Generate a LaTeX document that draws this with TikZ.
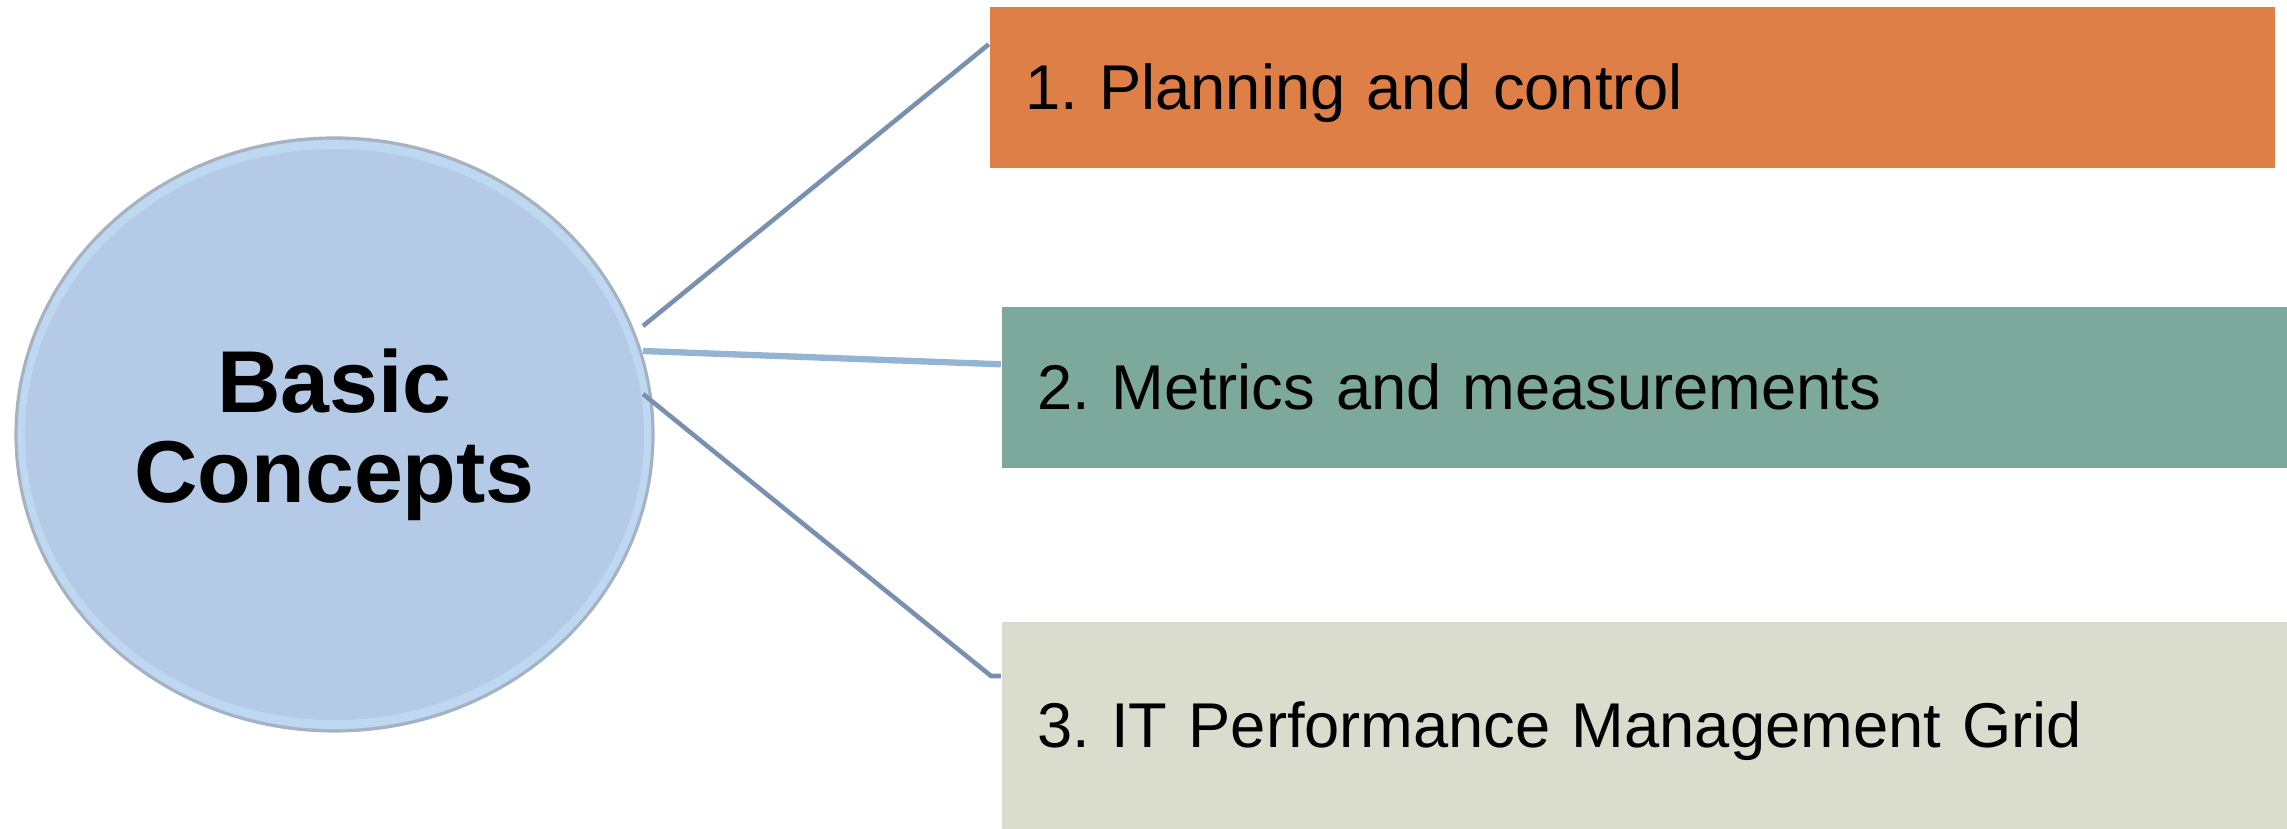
\documentclass[tikz,border=0pt]{standalone}
\usepackage{fontspec}
\setmainfont{Liberation Sans}
\usepackage{xcolor}
\usetikzlibrary{shapes.geometric,calc}
\definecolor{conceptBlue}{RGB}{181, 202, 230}
\definecolor{conceptEdge}{RGB}{166, 178, 194}
\definecolor{conceptGlow}{RGB}{198, 226, 250}
\definecolor{planOrange}{RGB}{221, 127, 71}
\definecolor{metricTeal}{RGB}{125, 168, 156}
\definecolor{gridBeige}{RGB}{218, 221, 205}
\definecolor{linkBlue}{RGB}{120, 145, 176}
\definecolor{linkLight}{RGB}{148, 180, 212}
\frenchspacing

\begin{document}
\begin{tikzpicture}
            \tikzstyle{conceptbox} = [ellipse, draw=conceptEdge, line width=0.9pt, fill=conceptBlue, minimum width=6.37cm, minimum height=5.93cm, inner sep=0pt, align=center, font=\fontsize{25}{25.6}\selectfont\bfseries,
                path picture={\draw[conceptGlow, line width=2.5pt, opacity=0.6] (path picture bounding box.center) ellipse (3.14cm and 2.9cm);}]
            \tikzstyle{itembox} = [rectangle, minimum height=1.61cm, text width=12.13cm, inner xsep=0.36cm, inner ysep=0pt, align=left, text height=12.6pt, text depth=0pt, font=\fontsize{18}{21}\selectfont]
            \tikzstyle{link} = [linkBlue, line width=1.3pt]

            \useasboundingbox (0, 0) rectangle (22.87, 8.29);

            \node[conceptbox] (concept) at (3.345, 3.945) {Basic\\Concepts};
            \node[itembox, fill=planOrange] (plan) at (16.32, 7.415) {1. Planning and control};
            \node[itembox, fill=metricTeal, text width=12.14cm] (metric) at (16.445, 4.415) {2. Metrics and measurements};
            \node[itembox, fill=gridBeige, text width=12.14cm, minimum height=2.07cm] (grid) at (16.445, 1.035) {3. IT Performance Management Grid};

            \coordinate (s1) at (6.43, 5.03);
            \coordinate (s2) at (6.43, 4.78);
            \coordinate (s3) at (6.43, 4.35);
            \coordinate (bend) at (9.91, 1.53);

            \draw[link] (s1) -- ($(plan.north west)+(0,-0.38)$);
            \draw[link, linkLight, line width=1.8pt] (s2) -- ($(metric.north west)+(0,-0.58)$);
            \draw[link] (s3) -- (bend) -- (bend -| grid.west);
        \end{tikzpicture}
\end{document}
